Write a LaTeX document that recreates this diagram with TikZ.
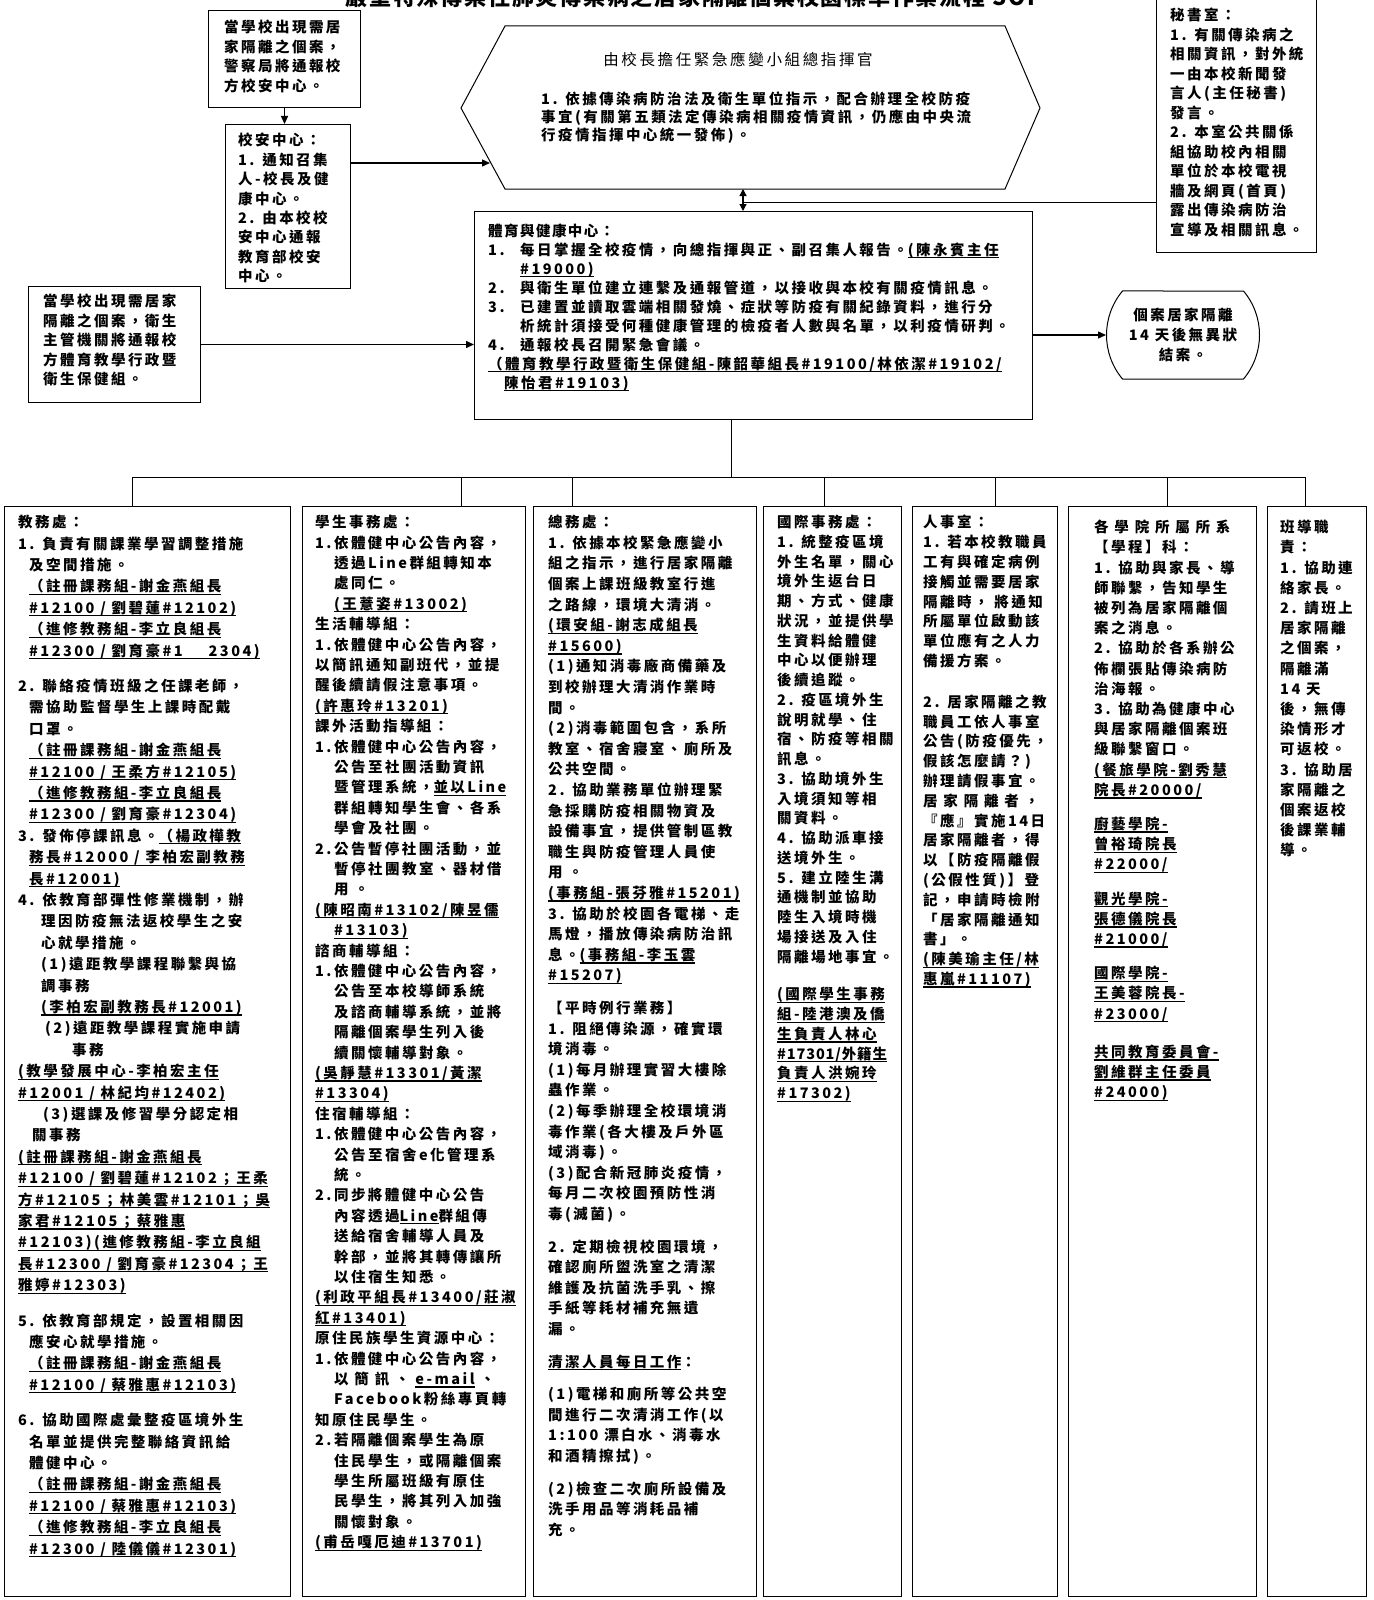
\documentclass[tikz,border=0pt]{standalone}
\usepackage{fontspec}
\setmainfont{Noto Sans CJK TC}[LetterSpace=17]
\usetikzlibrary{arrows.meta,shapes.misc}
\newsavebox\ulbox
\newcommand\ul[1]{\sbox\ulbox{#1}\rlap{\rule[-3.2pt]{\wd\ulbox}{1.3pt}}\usebox\ulbox}
\newcommand\ind[1]{\hspace*{#1pt}}
\tikzset{
  box/.style={draw, line width=1pt, inner sep=0pt},
  colbox/.style={draw, line width=1.3pt, inner sep=0pt, anchor=north west, minimum height=1090pt},
  txt/.style={inner sep=0pt, align=left, anchor=north west, font=\fontsize{14.5}{#1}\selectfont\bfseries},
  arr/.style={-{Triangle[length=8pt,width=7pt]}, line width=1.4pt},
  dblarr/.style={{Triangle[length=7pt,width=7pt]}-{Triangle[length=7pt,width=7pt]}, line width=1.2pt},
  ln/.style={line width=0.9pt}
}
\begin{document}
\begin{tikzpicture}[x=1pt,y=-1pt]
\useasboundingbox (0,0) rectangle (1373,1600);
\fill[white] (0,0) rectangle (1373,1600);

% title (cut at top)
\node[font=\fontsize{22}{22}\selectfont\bfseries\addfontfeature{LetterSpace=8}, anchor=base, inner sep=0pt] (title) at (694,6) {嚴重特殊傳染性肺炎傳染病之居家隔離個案校園標準作業流程 SOP};

% police box
\node[box, minimum width=152pt, minimum height=97pt, anchor=north west] (police) at (208,10) {};
\node[txt=19.4] (policet) at (224,20) {當學校出現需居\\家隔離之個案，\\警察局將通報校\\方校安中心。};

% campus security box
\node[box, minimum width=125pt, minimum height=164pt, anchor=north west] (xiao) at (225,124) {};
\node[txt=19.4] (xiaot) at (238,133) {校安中心：\\1. 通知召集\\人-校長及健\\康中心。\\2. 由本校校\\安中心通報\\教育部校安\\中心。};

% left box
\node[box, minimum width=172pt, minimum height=116pt, anchor=north west] (leftb) at (28,286) {};
\node[txt=19.4] (leftt) at (43,294) {當學校出現需居家\\隔離之個案，衛生\\主管機關將通報校\\方體育教學行政暨\\衛生保健組。};

% hexagon
\draw[line width=1pt] (461,108) -- (505,26) -- (1005,26) -- (1040,108) -- (1005,189) -- (505,189) -- cycle;
\coordinate (hexin) at (490,163);
\coordinate (hexbot) at (743,189);
\node[inner sep=0pt, font=\fontsize{15.5}{18}\selectfont] (hextitle) at (738,60) {由校長擔任緊急應變小組總指揮官};
\node[txt=18] (hext) at (541,92) {1. 依據傳染病防治法及衛生單位指示，配合辦理全校防疫\\事宜(有關第五類法定傳染病相關疫情資訊，仍應由中央流\\行疫情指揮中心統一發佈)。};

% secretariat
\node[box, minimum width=160pt, minimum height=254pt, anchor=north west] (secr) at (1156,-2) {};
\node[txt=19.5] (secrt) at (1170,8) {秘書室：\\1. 有關傳染病之\\相關資訊，對外統\\一由本校新聞發\\言人(主任秘書)\\發言。\\2. 本室公共關係\\組協助校內相關\\單位於本校電視\\牆及網頁(首頁)\\露出傳染病防治\\宣導及相關訊息。};

% health center
\node[box, minimum width=558pt, minimum height=208pt, anchor=north west] (health) at (474,211) {};
\node[txt=19] (healtht) at (488,223.5) {\addfontfeature{LetterSpace=10}體育與健康中心：\\
\makebox[32pt][l]{1.}每日掌握全校疫情，向總指揮與正、副召集人報告。\ul{(陳永賓主任}\\
\ind{32}\ul{\#19000)}\\
\makebox[32pt][l]{2.}與衛生單位建立連繫及通報管道，以接收與本校有關疫情訊息。\\
\makebox[32pt][l]{3.}已建置並讀取雲端相關發燒、症狀等防疫有關紀錄資料，進行分\\
\ind{32}析統計須接受何種健康管理的檢疫者人數與名單，以利疫情研判。\\
\makebox[32pt][l]{4.}通報校長召開緊急會議。\\
\ul{（體育教學行政暨衛生保健組-陳韶華組長\#19100/林依潔\#19102/}\\
\ind{16}\ul{陳怡君\#19103)}};

% oval
\node[draw, line width=1pt, shape=rounded rectangle, rounded rectangle arc length=80, minimum width=153pt, minimum height=88pt, align=center, inner sep=0pt, font=\fontsize{14.5}{20}\selectfont\bfseries] (oval) at (1183,335) {個案居家隔離\\14 天後無異狀\\結案。};

% connectors top
\draw[arr] (police.south) -- (police.south |- xiao.north);
\draw[arr] (xiao.east |- hexin) -- (hexin);
\draw[arr] (leftb.east) -- (leftb.east -| health.west);
\draw[dblarr] (hexbot) -- (hexbot |- health.north);
\coordinate (j1) at (743,202);
\draw[ln] (j1) -- (j1 -| secr.west);
\draw[arr] (oval.west -| health.east) -- (oval.west);

% tree
\coordinate (tr) at (731,477);
\coordinate (d1) at (132,477);
\coordinate (d2) at (461,477);
\coordinate (d3) at (572,477);
\coordinate (d4) at (824,477);
\coordinate (d5) at (995,477);
\coordinate (d6) at (1167,477);
\coordinate (d7) at (1305,477);
\draw[ln] (health.south -| tr) -- (tr);
\draw[ln] (d1) -- (d7);

% column boxes
\node[colbox, minimum width=286pt] (b1) at (4,506) {};
\node[colbox, minimum width=223pt] (b2) at (302,506) {};
\node[colbox, minimum width=223pt] (b3) at (533,506) {};
\node[colbox, minimum width=138pt] (b4) at (763,506) {};
\node[colbox, minimum width=145pt] (b5) at (912,506) {};
\node[colbox, minimum width=188pt] (b6) at (1068,506) {};
\node[colbox, minimum width=99pt] (b7) at (1267,506) {};
\foreach \i in {1,...,7} {\draw[ln] (d\i) -- (d\i |- b\i.north);}

% column 1
\node[txt=21.4] (t1) at (18,515) {教務處：\\
1. 負責有關課業學習調整措施\\
\ind{11}及空間措施。\\
\ind{11}\ul{（註冊課務組-謝金燕組長}\\
\ind{11}\ul{\#12100 / 劉碧蓮\#12102)}\\
\ind{11}\ul{（進修教務組-李立良組長}\\
\ind{11}\ul{\#12300 / 劉育豪\#1\hspace{26pt}2304)}\\[14pt]
2. 聯絡疫情班級之任課老師，\\
\ind{11}需協助監督學生上課時配戴\\
\ind{11}口罩。\\
\ind{11}\ul{（註冊課務組-謝金燕組長}\\
\ind{11}\ul{\#12100 / 王柔方\#12105)}\\
\ind{11}\ul{（進修教務組-李立良組長}\\
\ind{11}\ul{\#12300 / 劉育豪\#12304)}\\
3. 發佈停課訊息。\ul{（楊政樺教}\\
\ind{11}\ul{務長\#12000 / 李柏宏副教務}\\
\ind{11}\ul{長\#12001)}\\
4. 依教育部彈性修業機制，辦\\
\ind{23}理因防疫無法返校學生之安\\
\ind{23}心就學措施。\\
\ind{23}(1)遠距教學課程聯繫與協\\
\ind{23}調事務\\
\ind{23}\ul{(李柏宏副教務長\#12001)}\\
\ind{27}(2)遠距教學課程實施申請\\
\ind{54}事務\\
\ul{(教學發展中心-李柏宏主任}\\
\ul{\#12001 / 林紀均\#12402)}\\
\ind{25}(3)選課及修習學分認定相\\
\ind{14}關事務\\
\ul{(註冊課務組-謝金燕組長}\\
\ul{\#12100 / 劉碧蓮\#12102；王柔}\\
\ul{方\#12105；林美雲\#12101；吳}\\
\ul{家君\#12105；蔡雅惠}\\
\ul{\#12103)(進修教務組-李立良組}\\
\ul{長\#12300 / 劉育豪\#12304；王}\\
\ul{雅婷\#12303)}\\[14pt]
5. 依教育部規定，設置相關因\\
\ind{11}應安心就學措施。\\
\ind{11}\ul{（註冊課務組-謝金燕組長}\\
\ind{11}\ul{\#12100 / 蔡雅惠\#12103)}\\[14pt]
6. 協助國際處彙整疫區境外生\\
\ind{11}名單並提供完整聯絡資訊給\\
\ind{11}體健中心。\\
\ind{11}\ul{（註冊課務組-謝金燕組長}\\
\ind{11}\ul{\#12100 / 蔡雅惠\#12103)}\\
\ind{11}\ul{（進修教務組-李立良組長}\\
\ind{11}\ul{\#12300 / 陸儀儀\#12301)}};

% column 2
\node[txt=20.4] (t2) at (315,515) {學生事務處：\\
1.依體健中心公告內容，\\
\ind{19}透過Line群組轉知本\\
\ind{19}處同仁。\\
\ind{19}\ul{(王薏姿\#13002)}\\
生活輔導組：\\
1.依體健中心公告內容，\\
以簡訊通知副班代，並提\\
醒後續請假注意事項。\\
\ul{(許惠玲\#13201)}\\
課外活動指導組：\\
1.依體健中心公告內容，\\
\ind{19}公告至社團活動資訊\\
\ind{19}暨管理系統，\ul{並以Line}\\
\ind{19}群組轉知學生會、各系\\
\ind{19}學會及社團。\\
2.公告暫停社團活動，並\\
\ind{19}暫停社團教室、器材借\\
\ind{19}用 。\\
\ul{(陳昭南\#13102/陳昱儒}\\
\ind{19}\ul{\#13103)}\\
諮商輔導組：\\
1.依體健中心公告內容，\\
\ind{19}公告至本校導師系統\\
\ind{19}及諮商輔導系統，並將\\
\ind{19}隔離個案學生列入後\\
\ind{19}續關懷輔導對象。\\
\ul{(吳靜慧\#13301/黃潔}\\
\ul{\#13304)}\\
住宿輔導組：\\
1.依體健中心公告內容，\\
\ind{19}公告至宿舍e化管理系\\
\ind{19}統。\\
2.同步將體健中心公告\\
\ind{19}內容透過\ul{Line}群組傳\\
\ind{19}送給宿舍輔導人員及\\
\ind{19}幹部，並將其轉傳讓所\\
\ind{19}以住宿生知悉。\\
\ul{(利政平組長\#13400/莊淑}\\
\ul{紅\#13401)}\\
原住民族學生資源中心：\\
1.依體健中心公告內容，\\
\ind{19}以 簡 訊 、 \ul{e-mail} 、\\
\ind{19}Facebook粉絲專頁轉\\
知原住民學生。\\
2.若隔離個案學生為原\\
\ind{19}住民學生，或隔離個案\\
\ind{19}學生所屬班級有原住\\
\ind{19}民學生，將其列入加強\\
\ind{19}關懷對象。\\
\ul{(甫岳嘎厄迪\#13701)}};

% column 3
\node[txt=20.6] (t3) at (548,515) {總務處：\\
1. 依據本校緊急應變小\\
組之指示，進行居家隔離\\
個案上課班級教室行進\\
之路線，環境大清消。\\
\ul{(環安組-謝志成組長}\\
\ul{\#15600)}\\
(1)通知消毒廠商備藥及\\
到校辦理大清消作業時\\
間。\\
(2)消毒範圍包含，系所\\
教室、宿舍寢室、廁所及\\
公共空間。\\
2. 協助業務單位辦理緊\\
急採購防疫相關物資及\\
設備事宜，提供管制區教\\
職生與防疫管理人員使\\
用 。\\
\ul{(事務組-張芬雅\#15201)}\\
3. 協助於校園各電梯、走\\
馬燈，播放傳染病防治訊\\
息。\ul{(事務組-李玉雲}\\
\ul{\#15207)}\\[12pt]
【平時例行業務】\\
1. 阻絕傳染源，確實環\\
境消毒。\\
(1)每月辦理實習大樓除\\
蟲作業。\\
(2)每季辦理全校環境消\\
毒作業(各大樓及戶外區\\
域消毒)。\\
(3)配合新冠肺炎疫情，\\
每月二次校園預防性消\\
毒(滅菌)。\\[12pt]
2. 定期檢視校園環境，\\
確認廁所盥洗室之清潔\\
維護及抗菌洗手乳、擦\\
手紙等耗材補充無遺\\
漏。\\[12pt]
\ul{清潔人員每日工作}：\\[12pt]
(1)電梯和廁所等公共空\\
間進行二次清消工作(以\\
1:100 漂白水、消毒水\\
和酒精擦拭)。\\[12pt]
(2)檢查二次廁所設備及\\
洗手用品等消耗品補\\
充。};

% column 4
\node[txt=19.75] (t4) at (777,515) {國際事務處：\\
1. 統整疫區境\\
外生名單，關心\\
境外生返台日\\
期、方式、健康\\
狀況，並提供學\\
生資料給體健\\
中心以便辦理\\
後續追蹤。\\
2. 疫區境外生\\
說明就學、住\\
宿、防疫等相關\\
訊息。\\
3. 協助境外生\\
入境須知等相\\
關資料。\\
4. 協助派車接\\
送境外生。\\
5. 建立陸生溝\\
通機制並協助\\
陸生入境時機\\
場接送及入住\\
隔離場地事宜。\\[18pt]
\ul{(國際學生事務}\\
\ul{組-陸港澳及僑}\\
\ul{生負責人林心}\\
\ul{\addfontfeature{LetterSpace=6}\#17301/外籍生}\\
\ul{負責人洪婉玲}\\
\ul{\#17302)}};

% column 5
\node[txt=19.8] (t5) at (923,515) {人事室：\\
1. 若本校教職員\\
工有與確定病例\\
接觸並需要居家\\
隔離時， 將通知\\
所屬單位啟動該\\
單位應有之人力\\
備援方案。\\[21pt]
2. 居家隔離之教\\
職員工依人事室\\
公告(防疫優先，\\
假該怎麼請？)\\
辦理請假事宜。\\
居 家 隔 離 者 ，\\
『應』實施14日\\
居家隔離者，得\\
以【防疫隔離假\\
(公假性質)】登\\
記，申請時檢附\\
「居家隔離通知\\
書」。\\
\ul{(陳美瑜主任/林}\\
\ul{惠嵐\#11107)}};

% column 6
\node[txt=20.2] (t6) at (1094,520) {各 學 院 所 屬 所 系\\
【學程】科：\\
1. 協助與家長、導\\
師聯繫，告知學生\\
被列為居家隔離個\\
案之消息。\\
2. 協助於各系辦公\\
佈欄張貼傳染病防\\
治海報。\\
3. 協助為健康中心\\
與居家隔離個案班\\
級聯繫窗口。\\
\ul{(餐旅學院-劉秀慧}\\
\ul{院長\#20000/}\\[14pt]
\ul{廚藝學院-}\\
\ul{曾裕琦院長}\\
\ul{\#22000/}\\[14pt]
\ul{觀光學院-}\\
\ul{張德儀院長}\\
\ul{\#21000/}\\[14pt]
\ul{國際學院-}\\
\ul{王美蓉院長-}\\
\ul{\#23000/}\\[18pt]
\ul{共同教育委員會-}\\
\ul{劉維群主任委員}\\
\ul{\#24000)}};

% column 7
\node[txt=20.2] (t7) at (1280,520) {班導職\\
責：\\
1. 協助連\\
絡家長。\\
2. 請班上\\
居家隔離\\
之個案，\\
隔離滿\\
14 天\\
後，無傳\\
染情形才\\
可返校。\\
3. 協助居\\
家隔離之\\
個案返校\\
後課業輔\\
導。};
\end{tikzpicture}
\end{document}
